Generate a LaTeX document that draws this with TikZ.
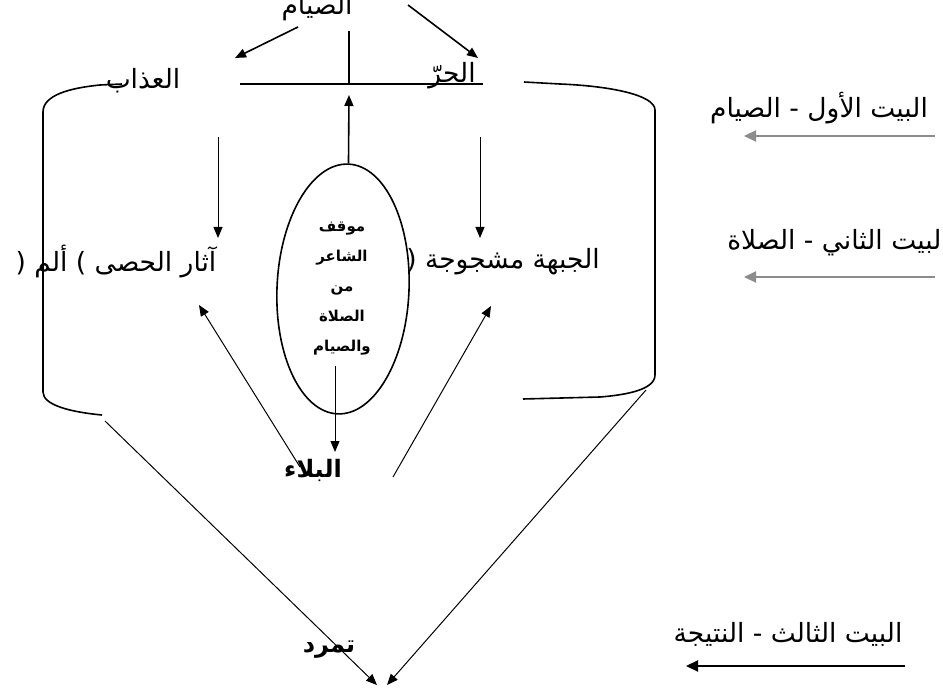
\documentclass[tikz,border=0pt]{standalone}
\usepackage{fontspec}
\usetikzlibrary{arrows.meta,shapes.geometric}
\TeXXeTstate=1
\newfontfamily\arfont[Script=Arabic]{DejaVu Sans}
\begin{document}
\begin{tikzpicture}[x=1pt,y=-1pt,
  lbl/.style={font=\arfont\fontsize{26.5}{30}\selectfont, inner sep=0pt},
  blbl/.style={font=\arfont\bfseries\fontsize{24}{28}\selectfont, inner sep=0pt},
  ell/.style={font=\arfont\bfseries\fontsize{15}{30}\selectfont, inner sep=0pt, align=center},
  ln/.style={line width=1.6pt},
  thin/.style={line width=1pt},
  tip/.style={-{Triangle[length=11pt,width=9pt]}},
  side/.style={line width=2.2pt, -{Triangle[length=12pt,width=11pt]}}
]
\useasboundingbox[fill=white] (0,0) rectangle (943,695);

% texts
\node[lbl] (siyam) at (317,8) {\beginR الصيام\endR};
\node[lbl] (harr) at (452,76) {\beginR الحرّ\endR};
\node[lbl] (adhab) at (143,81) {\beginR العذاب\endR};
\node[lbl] (athar) at (116,262) {\beginR آثار الحصى ) ألم (\endR};
\node[lbl] (jabha) at (503,262) {\beginR الجبهة مشجوجة (\endR};
\node[blbl] (bala) at (313,470) {\beginR البلاء\endR};
\node[blbl] (tamarrud) at (329,650) {\beginR تمرد\endR};
\node[lbl] (b1) at (819,108) {\beginR البيت الأول - الصيام\endR};
\node[lbl] (b2) at (838,243) {\beginR البيت الثاني - الصلاة\endR};
\node[lbl] (b3) at (788,634) {\beginR البيت الثالث - النتيجة\endR};

% ellipse
\node[ellipse, draw, ln, minimum width=132pt, minimum height=250pt, rotate=-2.5] (oval) at (343,289) {};
\node[ell] (stance) at (342,289) {\beginR موقف\endR\\ \beginR الشاعر\endR\\ \beginR من\endR\\ \beginR الصلاة\endR\\ \beginR والصيام\endR};

% coordinates
\coordinate (s1) at (298,27);
\coordinate (s1e) at (235,58);
\coordinate (s2) at (408,5);
\coordinate (s2e) at (478,58);
\coordinate (hl) at (240,84);
\coordinate (hr) at (483,84);
\coordinate (vt) at (349,31);
\coordinate (vb) at (349,84);
\coordinate (up1) at (349,95);
\coordinate (d1a) at (218,137);
\coordinate (d1b) at (218,238);
\coordinate (d2a) at (480,137);
\coordinate (d2b) at (480,238);
\coordinate (in1) at (335,366);
\coordinate (in2) at (335,452);
\coordinate (la) at (300,467);
\coordinate (lb) at (199,305);
\coordinate (ra) at (393,477);
\coordinate (rb) at (491,306);
\coordinate (bl0) at (105,421);
\coordinate (bl1) at (377,685);
\coordinate (br0) at (646,390);
\coordinate (br1) at (387,685);
\coordinate (a1s) at (935,136);
\coordinate (a1e) at (744,136);
\coordinate (a2s) at (935,277);
\coordinate (a2e) at (744,277);
\coordinate (a3s) at (905,666);
\coordinate (a3e) at (686,666);

% brackets
\draw[ln] (122,84) -- (100,85) .. controls (70,88) and (43,95) .. (43,112) -- (43,392) .. controls (43,405) and (70,412) .. (102,415);
\draw[ln] (524,82) -- (560,84) .. controls (610,86) and (655,95) .. (655,110) -- (655,375) .. controls (655,390) and (625,395) .. (600,397) -- (523,399);

% connectors
\draw[ln,tip] (s1) -- (s1e);
\draw[ln,tip] (s2) -- (s2e);
\draw[ln] (hl) -- (hr);
\draw[ln] (vt) -- (vb);
\draw[ln,tip] (oval.north) -- (up1);
\draw[thin,tip] (d1a) -- (d1b);
\draw[thin,tip] (d2a) -- (d2b);
\draw[thin,tip] (in1) -- (in2);
\draw[thin,tip] (la) -- (lb);
\draw[thin,tip] (ra) -- (rb);
\draw[thin,tip] (bl0) -- (bl1);
\draw[thin,tip] (br0) -- (br1);
\draw[side,draw=black!45] (a1s) -- (a1e);
\draw[side,draw=black!45] (a2s) -- (a2e);
\draw[side] (a3s) -- (a3e);
\end{tikzpicture}
\end{document}
